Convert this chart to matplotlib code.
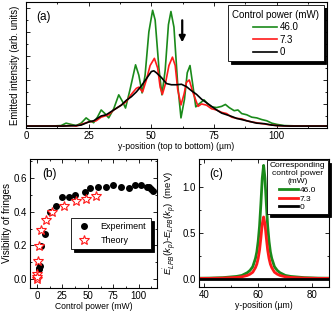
import matplotlib
matplotlib.use("Agg")
import matplotlib.pyplot as plt
from matplotlib.ticker import MultipleLocator, NullFormatter

plt.rcParams['font.family'] = ['Liberation Sans', 'DejaVu Sans']
plt.rcParams['mathtext.fontset'] = 'custom'
plt.rcParams['mathtext.rm'] = 'Liberation Sans'
plt.rcParams['mathtext.it'] = 'Liberation Sans:italic'

# ---- panel (a): emitted intensity profiles ----
green_x = [0, 10, 14, 16, 18, 20, 22, 24, 25.5, 27, 28.5, 30, 31.5, 33, 35, 37, 38.5, 39.7,
           41.5, 43.7, 45, 46.3, 47.5, 49, 50.5, 51.5, 53, 54.2, 55.5, 56.8, 57.8, 59, 60.5,
           61.8, 63.2, 64.3, 65.4, 66.5, 67.7, 69, 71, 72.5, 74, 76, 78, 79.5, 81, 83, 84.5,
           86, 88, 90, 92, 94, 96, 98, 100, 103, 110, 120]
green_y = [0.08, 0.08, 0.1, 0.2, 0.15, 0.1, 0.2, 0.42, 0.3, 0.22, 0.45, 0.75, 0.6, 0.42, 0.8,
           1.38, 1.1, 0.83, 1.6, 2.63, 2.2, 1.46, 2.2, 4.0, 4.9, 4.5, 2.5, 1.38, 2.4, 4.3, 4.85,
           4.2, 1.8, 0.42, 1.2, 2.3, 2.6, 1.8, 0.88, 1.0, 1.17, 1.0, 0.88, 0.85, 0.9, 0.98, 0.85,
           0.72, 0.75, 0.6, 0.55, 0.45, 0.42, 0.35, 0.3, 0.2, 0.15, 0.1, 0.08, 0.08]

red_x = [0, 14, 18, 20, 25, 28, 30, 33, 35, 38, 40, 42, 44, 45, 46.5, 48, 49.5, 51.2, 52.5,
         53.5, 54.4, 55.5, 57, 58.4, 59.5, 60.5, 61.8, 63, 64, 65.1, 66.5, 68.6, 70, 72, 74,
         76, 78, 80, 82, 84, 86, 88, 90, 93, 96, 100, 105, 120]
red_y = [0.08, 0.08, 0.1, 0.08, 0.25, 0.3, 0.45, 0.55, 0.75, 0.95, 1.1, 1.4, 1.65, 1.7, 1.5,
         2.0, 2.6, 2.9, 2.5, 1.7, 1.4, 1.8, 2.6, 2.95, 2.6, 1.6, 0.96, 1.4, 1.9, 2.0, 1.5, 0.9,
         1.0, 0.95, 0.8, 0.75, 0.65, 0.6, 0.45, 0.4, 0.38, 0.3, 0.25, 0.2, 0.15, 0.1, 0.08, 0.08]

black_x = [0, 15, 20, 22, 25, 27, 30, 32, 35, 38, 40, 42, 44, 46, 48, 50, 51, 52, 54, 56, 58,
           60, 62, 64, 66, 68, 70, 72, 74, 76, 78, 80, 82, 84, 86, 88, 90, 92, 95, 98, 100,
           105, 120]
black_y = [0.08, 0.08, 0.1, 0.12, 0.25, 0.3, 0.5, 0.55, 0.75, 0.95, 1.15, 1.3, 1.5, 1.75,
           2.05, 2.35, 2.38, 2.3, 2.1, 1.85, 1.8, 1.8, 1.82, 1.72, 1.55, 1.4, 1.2, 1.05, 0.9,
           0.75, 0.62, 0.55, 0.48, 0.4, 0.35, 0.3, 0.25, 0.2, 0.18, 0.12, 0.1, 0.08, 0.08]

# ---- panel (b): fringe visibility ----
exp_power = [1.5, 1.9, 2.5, 4.4, 7.6, 13, 18.7, 24.5, 31.5, 37.8, 46.7, 52, 60, 67.9, 75.2,
             82.9, 90.2, 96.5, 101.9, 108.3, 110.2, 111.7, 114]
exp_vis = [0.06, 0.07, 0.08, 0.196, 0.265, 0.40, 0.43, 0.486, 0.486, 0.496, 0.518, 0.539,
           0.543, 0.543, 0.555, 0.545, 0.537, 0.556, 0.556, 0.545, 0.545, 0.53, 0.52]
th_power = [0.0, 0.0, 0.3, 0.5, 1.9, 3.8, 8.6, 14.9, 26.3, 38.4, 47.9, 58.4]
th_vis = [0.0, 0.03, 0.015, 0.11, 0.196, 0.29, 0.349, 0.396, 0.43, 0.46, 0.476, 0.494]

# ---- panel (c): energy shift ----
c_x = [35, 42, 47, 52, 54, 56, 57, 58, 59, 59.5, 60, 60.5, 61, 61.5, 62, 62.5, 63, 63.5, 64,
       64.5, 65, 66, 67, 68, 70, 72, 77, 82, 90]
c_green = [0.004, 0.006, 0.011, 0.024, 0.035, 0.065, 0.09, 0.13, 0.22, 0.29, 0.405, 0.57,
           0.815, 1.09, 1.23, 1.09, 0.815, 0.57, 0.405, 0.29, 0.22, 0.13, 0.09, 0.065, 0.035,
           0.024, 0.011, 0.006, 0.004]
c_red = [0.002, 0.003, 0.006, 0.013, 0.02, 0.035, 0.049, 0.07, 0.12, 0.158, 0.22, 0.31,
         0.444, 0.594, 0.67, 0.594, 0.444, 0.31, 0.22, 0.158, 0.12, 0.07, 0.049, 0.035, 0.02,
         0.013, 0.006, 0.003, 0.002]
c_black = [0.0] * len(c_x)

GREEN = "#1a8a1a"
RED = "#ff1a1a"
TICK_FS = 7
LAB_FS = 6.2
YLAB_FS = 7.2


def style_axes(ax):
    ax.tick_params(which="both", direction="in", top=True, right=True,
                   labelsize=TICK_FS, pad=2)
    ax.tick_params(which="major", length=3, width=0.6)
    ax.tick_params(which="minor", length=1.6, width=0.6)
    for s in ax.spines.values():
        s.set_linewidth(0.8)


def boxed_legend(ax, **kw):
    kw.setdefault("borderaxespad", 0.4)
    leg = ax.legend(fancybox=False, shadow={"color": "black", "alpha": 1.0},
                    edgecolor="black", framealpha=1, **kw)
    leg.get_frame().set_linewidth(0.6)
    return leg


fig = plt.figure(figsize=(3.32, 3.16), dpi=100)

# (a)
ax_a = fig.add_axes([0.078, 0.595, 0.907, 0.399])
ax_a.plot(green_x, green_y, color=GREEN, lw=1.2, label="46.0")
ax_a.plot(red_x, red_y, color=RED, lw=1.2, label="7.3")
ax_a.plot(black_x, black_y, color="black", lw=1.2, label="0")
ax_a.annotate("", xy=(62.3, 3.45), xytext=(62.3, 4.6),
              arrowprops=dict(arrowstyle="-|>", color="black", lw=1.6, mutation_scale=9))
ax_a.set_xlim(0, 120)
ax_a.set_ylim(0, 5.25)
ax_a.xaxis.set_major_locator(MultipleLocator(25))
ax_a.xaxis.set_minor_locator(MultipleLocator(12.5))
ax_a.yaxis.set_major_locator(MultipleLocator(1))
ax_a.yaxis.set_minor_locator(MultipleLocator(0.5))
ax_a.yaxis.set_major_formatter(NullFormatter())
style_axes(ax_a)
ax_a.set_xlabel("y-position (top to bottom) (\u00b5m)", fontsize=LAB_FS, labelpad=1)
ax_a.set_ylabel("Emitted intensity (arb. units)", fontsize=YLAB_FS * 0.97, labelpad=2)
ax_a.text(0.035, 0.93, "(a)", transform=ax_a.transAxes, fontsize=8.5, va="top")
boxed_legend(ax_a, loc="upper right", title="Control power (mW)", fontsize=7,
             title_fontsize=7, handlelength=2.4, handletextpad=0.3, labelspacing=0.25,
             borderpad=0.45, borderaxespad=0.35)

# (b)
ax_b = fig.add_axes([0.090, 0.089, 0.383, 0.408])
ax_b.plot(exp_power, exp_vis, "o", color="black", ms=4, label="Experiment")
ax_b.plot(th_power, th_vis, "*", mfc="white", mec=RED, mew=0.8, ms=7, label="Theory")
ax_b.set_xlim(-7, 118)
ax_b.set_ylim(-0.05, 0.71)
ax_b.xaxis.set_major_locator(MultipleLocator(25))
ax_b.xaxis.set_minor_locator(MultipleLocator(12.5))
ax_b.yaxis.set_major_locator(MultipleLocator(0.2))
ax_b.yaxis.set_minor_locator(MultipleLocator(0.1))
style_axes(ax_b)
ax_b.set_xlabel("Control power (mW)", fontsize=LAB_FS, labelpad=1)
ax_b.set_ylabel("Visibility of fringes", fontsize=YLAB_FS, labelpad=1.5)
ax_b.text(0.10, 0.93, "(b)", transform=ax_b.transAxes, fontsize=8.5, va="top")
boxed_legend(ax_b, loc="center right", bbox_to_anchor=(0.98, 0.42), fontsize=6.5,
             handletextpad=0.8, labelspacing=0.5, borderpad=0.5)

# (c)
ax_c = fig.add_axes([0.598, 0.092, 0.392, 0.405])
ax_c.plot(c_x, c_green, color=GREEN, lw=2.0, label="46.0")
ax_c.plot(c_x, c_red, color=RED, lw=2.0, label="7.3")
ax_c.plot(c_x, c_black, color="black", lw=2.0, label="0")
ax_c.set_xlim(38, 86)
ax_c.set_ylim(-0.09, 1.3)
ax_c.xaxis.set_major_locator(MultipleLocator(20))
ax_c.xaxis.set_minor_locator(MultipleLocator(10))
ax_c.yaxis.set_major_locator(MultipleLocator(0.5))
ax_c.yaxis.set_minor_locator(MultipleLocator(0.25))
style_axes(ax_c)
ax_c.set_xlabel("y-position (\u00b5m)", fontsize=LAB_FS, labelpad=1)
ax_c.set_ylabel(r"$E^{'}_{LPB}(k_p)$-$E_{LPB}(k_p)$  (meV)", fontsize=6.8, labelpad=2)
ax_c.text(0.08, 0.93, "(c)", transform=ax_c.transAxes, fontsize=8.5, va="top")
leg = boxed_legend(ax_c, loc="upper right", title="Corresponding\ncontrol power\n(mW)",
                   fontsize=6.0, title_fontsize=6.0, handlelength=2.2, handletextpad=0.2,
                   labelspacing=0.1, borderpad=0.3, borderaxespad=0.1)
leg.get_title().set_multialignment("center")

fig.savefig("out.png", dpi=100)
